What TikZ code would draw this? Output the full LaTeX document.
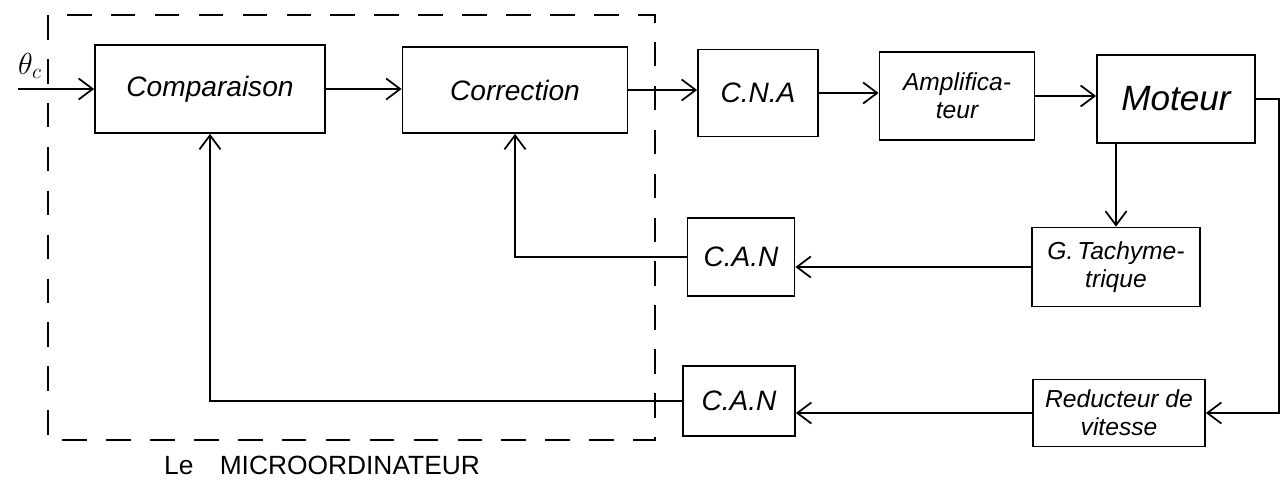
\documentclass[tikz,border=0pt]{standalone}
\usepackage{fontspec}
\setmainfont{Liberation Sans}
\usetikzlibrary{arrows.meta, positioning, calc}

\begin{document}
\begin{tikzpicture}[
  x=0.02cm, y=-0.02cm,
  bloc/.style={draw, line width=1pt, align=center, inner sep=4pt,
               font=\fontsize{16}{19}\selectfont\itshape},
  petit/.style={bloc, font=\fontsize{14}{16}\selectfont\itshape},
  fl/.style={line width=1pt, -{Straight Barb[length=8pt, width=12pt, line width=1pt]}}
]
\useasboundingbox (0,0) rectangle (1285,492);

% le microordinateur
\draw[line width=1pt, dash pattern=on 14pt off 11pt] (48,15) rectangle (655,440);
\node[font=\fontsize{15}{17}\selectfont] (lbl) at (322,465) {Le\quad MICROORDINATEUR};

% chaine directe
\node[bloc, minimum width=4.6cm, minimum height=1.76cm] (comp) at (210,89) {Comparaison};
\node[bloc, minimum width=4.5cm, minimum height=1.72cm] (corr) at (515,90) {Correction};
\node[bloc, minimum width=2.4cm, minimum height=1.74cm] (cna) at (758,93) {C.N.A};
\node[petit, minimum width=3.1cm, minimum height=1.76cm] (ampli) at (957,96) {Amplifica-\\teur};
\node[bloc, minimum width=3.16cm, minimum height=1.76cm, font=\fontsize{20}{24}\selectfont\itshape] (mot) at (1176,99) {Moteur};

% retours
\node[petit, minimum width=3.36cm, minimum height=1.58cm] (gtach) at (1116,267) {G.\,Tachyme-\\trique};
\node[bloc, minimum width=2.14cm, minimum height=1.56cm] (can1) at (741,257) {C.A.N};
\node[petit, minimum width=3.44cm, minimum height=1.34cm] (red) at (1119,413) {Reducteur de\\vitesse};
\node[bloc, minimum width=2.24cm, minimum height=1.4cm] (can2) at (739,401) {C.A.N};

% entree
\coordinate (in) at (18,89);
\node[font=\fontsize{18}{20}\selectfont] (theta) at (30,66) {$\theta_c$};

\draw[fl] (in) -- (comp.west);
\draw[fl] (comp.east) -- (corr.west |- comp.east);
\draw[fl] (corr.east) -- (cna.west |- corr.east);
\draw[fl] (cna.east) -- (ampli.west |- cna.east);
\draw[fl] (ampli.east) -- (mot.west |- ampli.east);
\draw[fl] (mot.south -| gtach.north) -- (gtach.north);
\draw[fl] (mot.east) -- ++(23,0) |- (red.east);
\draw[fl] (gtach.west) -- (can1.east |- gtach.west);
\draw[fl] (can1.west) -| (corr.south);
\draw[fl] (red.west) -- (can2.east |- red.west);
\draw[fl] (can2.west) -| (comp.south);
\end{tikzpicture}
\end{document}
